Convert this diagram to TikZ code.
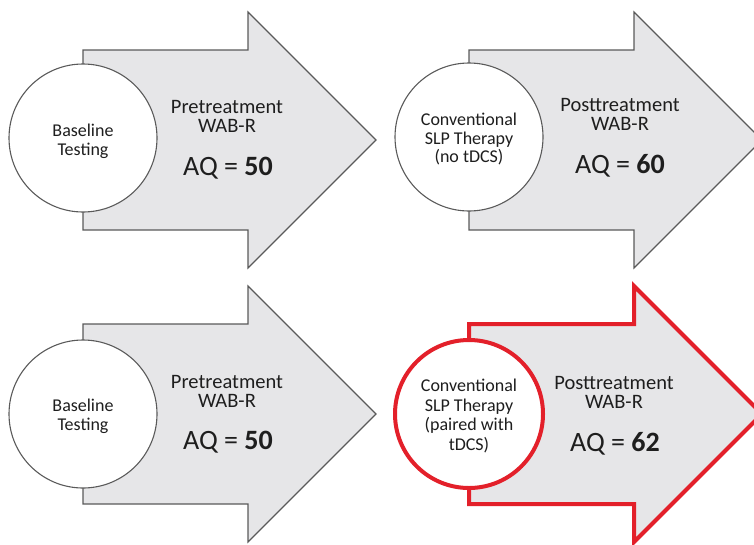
\documentclass[tikz,border=0pt]{standalone}
\usepackage{fontspec}
\setmainfont{Carlito}
\definecolor{arrowgray}{HTML}{E6E6E8}
\definecolor{edgegray}{HTML}{5A5A5A}
\definecolor{hired}{HTML}{E3202A}
\definecolor{txt}{HTML}{1E1E1E}
\newcommand\stagearrow[3]{%
  \path[#1] (#2,#3-90) -- (#2+165,#3-90) -- (#2+165,#3-128) -- (#2+293,#3)
    -- (#2+165,#3+128) -- (#2+165,#3+90) -- (#2,#3+90) -- cycle;}
\begin{document}
\begin{tikzpicture}[x=1pt,y=-1pt,
  arrowbody/.style={fill=arrowgray, draw=edgegray, line width=1.1pt, line join=miter},
  redbody/.style={fill=arrowgray, draw=hired, line width=4pt, line join=miter},
  stage/.style={circle, fill=white, draw=edgegray, line width=1.1pt, minimum size=148pt,
    inner sep=0pt},
  redstage/.style={stage, draw=hired, line width=4pt},
  stagetext/.style={align=center, inner sep=0pt, text=txt,
    font=\fontsize{18}{18.7}\selectfont},
  stagetextwide/.style={stagetext, font=\fontsize{18}{19.8}\selectfont},
  measure/.style={anchor=base, font=\fontsize{20.5}{20.5}\selectfont, text=txt},
  score/.style={anchor=base, font=\fontsize{28}{28}\selectfont, text=txt}]
\useasboundingbox (0,0) rectangle (754,544);
\clip (0,0) rectangle (754,544);
% top row
\stagearrow{arrowbody}{83}{140}
\stagearrow{arrowbody}{469}{140}
% bottom row
\stagearrow{arrowbody}{83}{414}
\stagearrow{redbody}{469}{414}
% circles
\node[stage] (c1) at (83,138) {};
\node[stage] (c2) at (469,137) {};
\node[stage] (c3) at (83,414) {};
\node[redstage] (c4) at (469,414) {};
\node[stagetext] (t1) at ([yshift=-3pt]c1.center) {Baseline\\Testing};
\node[stagetext] (t2) at ([yshift=-2pt]c2.center) {Conventional\\SLP Therapy\\(no tDCS)};
\node[stagetext] (t3) at ([yshift=-2pt]c3.center) {Baseline\\Testing};
\node[stagetextwide] (t4) at ([yshift=-2pt]c4.center) {Conventional\\SLP Therapy\\(paired with\\tDCS)};
% labels
\node[measure] (m1a) at (227,113) {Pretreatment};
\node[measure] (m1b) at (227,132) {WAB-R};
\node[score] (s1) at (228,175) {AQ = \textbf{50}};
\node[measure] (m2a) at (620,111) {Posttreatment};
\node[measure] (m2b) at (620,130) {WAB-R};
\node[score] (s2) at (620,173) {AQ = \textbf{60}};
\node[measure] (m3a) at (227,388) {Pretreatment};
\node[measure] (m3b) at (227,407) {WAB-R};
\node[score] (s3) at (228,449) {AQ = \textbf{50}};
\node[measure] (m4a) at (614,389) {Posttreatment};
\node[measure] (m4b) at (614,408) {WAB-R};
\node[score] (s4) at (615,451) {AQ = \textbf{62}};
\end{tikzpicture}
\end{document}
